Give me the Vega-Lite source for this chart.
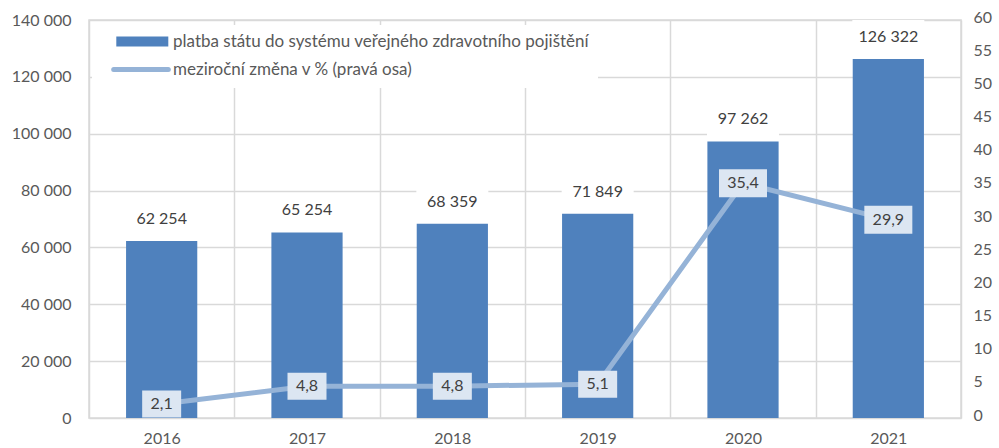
{
  "$schema": "https://vega.github.io/schema/vega-lite/v6.json",
  "width": 872,
  "height": 398,
  "autosize": {"type": "none"},
  "padding": {"left": 89, "top": 20, "right": 38, "bottom": 30},
  "background": "white",
  "config": {
    "locale": {"number": {"decimal": ",", "thousands": " ", "grouping": [3], "currency": ["", " Kč"]}},
    "view": {"stroke": "#d9d9d9", "strokeWidth": 1.5},
    "font": "Lato",
    "axis": {"labelFont": "Lato", "labelFontSize": 16, "labelColor": "#595959", "gridColor": "#d9d9d9", "gridWidth": 1.5, "domain": false, "ticks": false, "title": null}
  },
  "data": {"values": [
    {"year": "2016", "value": 62254, "pct": 2.1},
    {"year": "2017", "value": 65254, "pct": 4.8},
    {"year": "2018", "value": 68359, "pct": 4.8},
    {"year": "2019", "value": 71849, "pct": 5.1},
    {"year": "2020", "value": 97262, "pct": 35.4},
    {"year": "2021", "value": 126322, "pct": 29.9}
  ]},
  "encoding": {
    "x": {"field": "year", "type": "ordinal", "scale": {"paddingInner": 0, "paddingOuter": 0},
      "axis": {"labelAngle": 0, "grid": true, "tickBand": "extent", "labelPadding": 12, "title": null}}
  },
  "layer": [
    {
      "encoding": {
        "y": {"field": "value", "type": "quantitative", "scale": {"domain": [0, 140000], "nice": false},
          "axis": {"orient": "left", "values": [0, 20000, 40000, 60000, 80000, 100000, 120000, 140000], "format": ",d", "grid": true, "labelPadding": 18, "title": null}}
      },
      "layer": [
        {
          "mark": {"type": "bar", "width": {"band": 0.49}},
          "encoding": {
            "color": {"datum": "platba státu do systému veřejného zdravotního pojištění", "type": "nominal",
              "scale": {"domain": ["platba státu do systému veřejného zdravotního pojištění", "meziroční změna v % (pravá osa)"], "range": ["#4f81bd", "#95b3d7"]},
              "legend": {
                "title": null, "orient": "none", "legendX": 3, "legendY": 5, "fillColor": "white", "padding": 8,
                "labelFont": "Lato", "labelFontSize": 17, "labelColor": "#595959", "symbolSize": 2704,
                "labelOffset": 56, "rowPadding": 9, "labelLimit": 900,
                "labelExpr": "datum.label + '\u2003\u2003\u2003'",
                "symbolType": "M0.3,-0.19L2.3,-0.19L2.3,0.19L0.3,0.19Z",
                "encode": {"symbols": {"update": {
                  "shape": {"signal": "datum.value === 'meziroční změna v % (pravá osa)' ? 'M0.2,0L2.3,0' : 'M0.3,-0.19L2.3,-0.19L2.3,0.19L0.3,0.19Z'"},
                  "fill": {"signal": "datum.value === 'meziroční změna v % (pravá osa)' ? 'transparent' : '#4f81bd'"},
                  "stroke": {"signal": "datum.value === 'meziroční změna v % (pravá osa)' ? '#95b3d7' : 'transparent'"},
                  "strokeWidth": {"signal": "datum.value === 'meziroční změna v % (pravá osa)' ? 5 : 0"},
                  "strokeCap": {"value": "round"},
                  "opacity": {"value": 1}
                }}}
              }
            }
          }
        },
        {
          "mark": {"type": "rect", "width": 72, "height": 34, "fill": "white", "opacity": 1, "yOffset": -22},
          "encoding": {}
        },
        {
          "mark": {"type": "text", "dy": -22, "baseline": "middle", "align": "center", "fontSize": 16, "font": "Lato", "color": "#404040"},
          "encoding": {"text": {"field": "value", "type": "quantitative", "format": ",d"}}
        }
      ]
    },
    {
      "encoding": {
        "y": {"field": "pct", "type": "quantitative", "scale": {"domain": [0, 60], "nice": false},
          "axis": {"orient": "right", "values": [0, 5, 10, 15, 20, 25, 30, 35, 40, 45, 50, 55, 60], "format": "d", "grid": false, "labelPadding": 12, "labelOffset": -3, "title": null}}
      },
      "layer": [
        {
          "mark": {"type": "line", "strokeWidth": 5},
          "encoding": {"color": {"datum": "meziroční změna v % (pravá osa)", "type": "nominal"}}
        },
        {
          "transform": [{"filter": "datum.pct < 10"}],
          "mark": {"type": "rect", "width": 39, "height": 27, "fill": "#dce6f2", "opacity": 1},
          "encoding": {}
        },
        {
          "transform": [{"filter": "datum.pct >= 10"}],
          "mark": {"type": "rect", "width": 48, "height": 28, "fill": "#dce6f2", "opacity": 1},
          "encoding": {}
        },
        {
          "mark": {"type": "text", "baseline": "middle", "align": "center", "fontSize": 16, "font": "Lato", "color": "#404040"},
          "encoding": {"text": {"field": "pct", "type": "quantitative", "format": ".1f"}}
        }
      ]
    }
  ],
  "resolve": {"scale": {"y": "independent"}}
}
